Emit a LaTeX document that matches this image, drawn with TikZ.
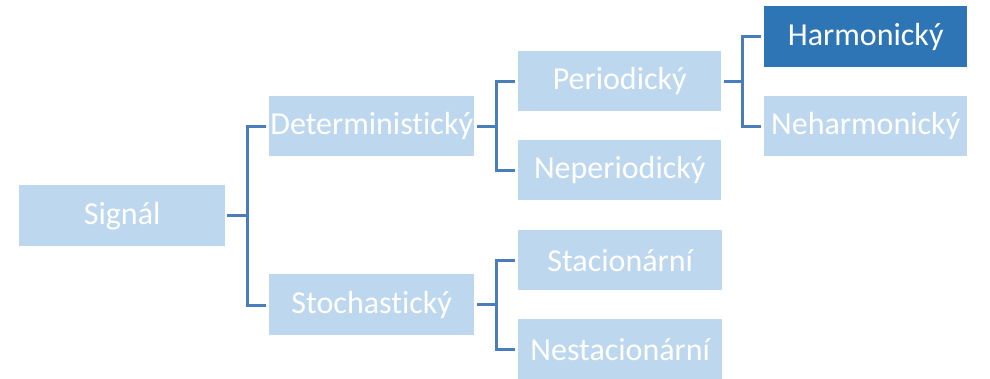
\documentclass[tikz,border=0pt]{standalone}
\usepackage{fontspec}
\setmainfont{Carlito}[Ligatures=NoCommon]
\definecolor{boxlight}{HTML}{BDD7EE}
\definecolor{boxdark}{HTML}{2E75B6}
\definecolor{linkblue}{HTML}{4A7EBB}
\tikzset{
  x=1pt, y=-1pt,
  leaf/.style={fill=boxlight, draw=none, inner sep=0pt, minimum width=#1, minimum height=60pt,
    text=white, font=\fontsize{32}{36}\selectfont, anchor=north west},
  leaf/.default=205pt,
  leafdark/.style={leaf=#1, fill=boxdark},
  leafdark/.default=204pt,
  link/.style={draw=linkblue, line width=3pt}
}
\begin{document}
\begin{tikzpicture}
\useasboundingbox (0,0) rectangle (990,379);
% level 0
\node[leaf=206pt, minimum height=61pt] (sig) at (19,185) {Signál};
% level 1
\node[leaf=205pt] (det) at (269,96) {Deterministický};
\node[leaf=205pt, minimum height=61pt] (sto) at (269,274) {Stochastický};
% level 2
\node[leaf=203pt] (per) at (518,51) {Periodický};
\node[leaf=203pt] (nper) at (518,140) {Neperiodický};
\node[leaf=204pt] (sta) at (518,230) {Stacionární};
\node[leaf=204pt] (nsta) at (518,319) {Nestacionární};
% level 3
\node[leafdark=203pt, minimum height=61pt] (har) at (764,6) {Harmonický};
\node[leaf=203pt] (nhar) at (764,96) {Neharmonický};
% connectors
\coordinate (j0) at (247,0);
\coordinate (j1) at (496,0);
\coordinate (j2) at (742,0);
\draw[link] ([xshift=2pt]sig.east) -- (sig.east -| j0);
\draw[link] ([xshift=-3pt]det.west) -| ([yshift=-1pt]sto.west -| j0) -- ([xshift=-3pt,yshift=-1pt]sto.west);
\draw[link] ([xshift=3pt]det.east) -- (det.east -| j1);
\draw[link] ([xshift=-3pt]per.west) -| (nper.west -| j1) -- ([xshift=-3pt]nper.west);
\draw[link] ([xshift=3pt]sto.east) -- (sto.east -| j1);
\draw[link] ([xshift=-3pt]sta.west) -| (nsta.west -| j1) -- ([xshift=-3pt]nsta.west);
\draw[link] ([xshift=3pt]per.east) -- (per.east -| j2);
\draw[link] ([xshift=-3pt]har.west) -| (nhar.west -| j2) -- ([xshift=-3pt]nhar.west);
\end{tikzpicture}
\end{document}
